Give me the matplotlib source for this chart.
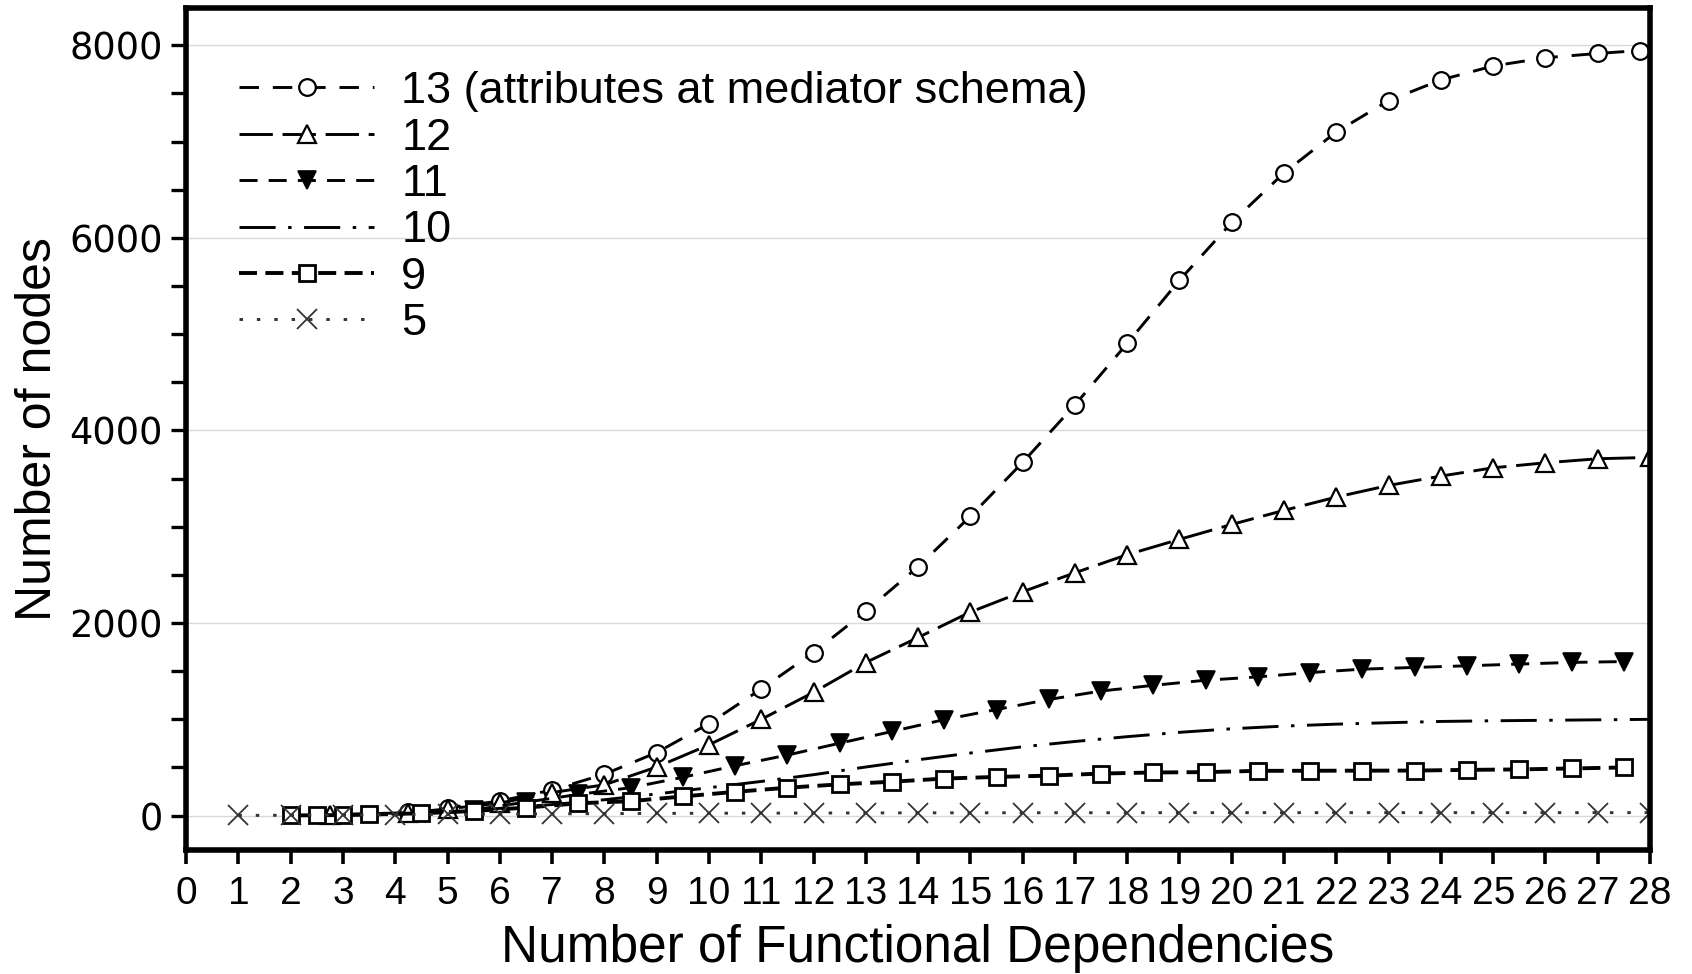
import matplotlib
matplotlib.use("Agg")
import matplotlib.pyplot as plt
from matplotlib import font_manager

# ---------------- data ----------------
x13 = [4.25, 5, 6, 7, 8, 9, 10, 11, 12, 13, 14, 15, 16, 17, 18, 19, 20,
       21, 22, 23, 24, 25, 26, 27, 27.8]
y13 = [35, 80, 152, 266, 430, 655, 955, 1315, 1694, 2122, 2585, 3108, 3668,
       4265, 4904, 5560, 6160, 6675, 7100, 7425, 7640, 7785, 7870, 7915, 7945]

x12 = [2.75, 4.25, 5, 6, 7, 8, 9, 10, 11, 12, 13, 14, 15, 16, 17, 18, 19,
       20, 21, 22, 23, 24, 25, 26, 27, 28]
y12 = [10, 30, 70, 130, 240, 320, 505, 735, 1000, 1280, 1590, 1850, 2114,
       2325, 2522, 2710, 2869, 3024, 3170, 3308, 3429, 3526, 3612, 3664,
       3706, 3720]

x11 = [5.5, 6.5, 7.5, 8.5, 9.5, 10.5, 11.5, 12.5, 13.5, 14.5, 15.5, 16.5,
       17.5, 18.5, 19.5, 20.5, 21.5, 22.5, 23.5, 24.5, 25.5, 26.5, 27.5]
y11 = [60, 140, 220, 290, 398, 518, 629, 752, 874, 997, 1102, 1206, 1294,
       1353, 1406, 1441, 1486, 1521, 1539, 1556, 1574, 1591, 1600]

x10 = [3, 4, 5, 6, 7, 8, 9, 10, 11, 12, 13, 14, 15, 16, 17, 18, 19, 20, 21,
       22, 23, 24, 25, 26, 27, 28]
y10 = [5, 15, 40, 75, 115, 165, 225, 290, 355, 425, 505, 580, 650, 715, 770,
       820, 865, 902, 930, 950, 965, 978, 985, 990, 995, 1000]

x9 = [2, 2.5, 3, 3.5, 4.5, 5.5, 6.5, 7.5, 8.5, 9.5, 10.5, 11.5, 12.5, 13.5,
      14.5, 15.5, 16.5, 17.5, 18.5, 19.5, 20.5, 21.5, 22.5, 23.5, 24.5,
      25.5, 26.5, 27.5]
y9 = [2, 4, 6, 12, 24, 48, 83, 128, 150, 199, 247, 290, 325, 352, 385, 402,
      415, 437, 448, 452, 465, 466, 467, 468, 475, 480, 490, 500]

x5 = [1, 2, 3, 4, 5, 6, 7, 8, 9, 10, 11, 12, 13, 14, 15, 16, 17, 18, 19, 20,
      21, 22, 23, 24, 25, 26, 27, 28]
y5 = [2, 4, 7, 10, 13, 16, 19, 21, 23, 25, 26, 27, 28, 29, 29, 30, 30, 30,
      31, 31, 31, 31, 31, 31, 31, 31, 31, 31]

labels = ["13 (attributes at mediator schema)", "12", "11", "10", "9", "5"]
xticks = list(range(0, 29))
yticks_major = [0, 2000, 4000, 6000, 8000]
yticks_minor = [500, 1000, 1500, 2500, 3000, 3500, 4500, 5000, 5500,
                6500, 7000, 7500]

# ---------------- style ----------------
plt.rcParams['lines.scale_dashes'] = False
installed = {f.name for f in font_manager.fontManager.ttflist}
narrow = 'Liberation Sans Narrow' if 'Liberation Sans Narrow' in installed else 'Liberation Sans'

fig = plt.figure(figsize=(16.92, 9.74), dpi=100)
ax = fig.add_axes([0.110, 0.1273, 0.8652, 0.8645])

mk = dict(markerfacecolor='white', markeredgecolor='black', color='black')

ax.plot(x13, y13, linestyle=(0, (14, 10)), lw=2.1, marker='o', ms=12,
        mew=1.6, label=labels[0], **mk)
ax.plot(x12, y12, linestyle=(0, (24, 7)), lw=2.1, marker='^', ms=13.5,
        mew=1.6, label=labels[1], **mk)
ax.plot(x11, y11, linestyle=(0, (13, 8)), lw=2.1, marker='v', ms=12.5,
        mew=1.2, color='black', markerfacecolor='black',
        markeredgecolor='black', label=labels[2])
ax.plot(x10, y10, linestyle=(0, (26, 9, 2.5, 9)), lw=2.1, color='black',
        label=labels[3])
ax.plot(x9, y9, linestyle=(0, (13, 6)), lw=2.8, marker='s', ms=12,
        mew=2.0, label=labels[4], **mk)
ax.plot(x5, y5, linestyle=(0, (2.5, 10)), lw=2.1, marker='x', ms=14,
        mew=1.3, color='#333333', label=labels[5])

ax.set_xlim(0, 28)
ax.set_ylim(-357, 8387)
ax.set_xticks(xticks)
ax.set_xticklabels([str(t) for t in xticks], fontfamily=narrow, fontsize=28)
ax.set_yticks(yticks_major)
ax.set_yticks(yticks_minor, minor=True)
ax.set_yticklabels([str(t) for t in yticks_major], fontfamily='DejaVu Sans',
                   fontsize=26.5)

ax.grid(axis='y', which='major', color='#d8d8d8', lw=1.0)
ax.set_axisbelow(True)

for s in ax.spines.values():
    s.set_linewidth(4)
ax.tick_params(axis='x', direction='out', length=10, width=2.6, pad=9)
ax.tick_params(axis='y', which='major', direction='out', length=11,
               width=2.4, pad=6)
ax.tick_params(axis='y', which='minor', direction='out', length=11,
               width=2.4)

ax.set_xlabel("Number of Functional Dependencies", fontfamily='Liberation Sans',
              fontsize=37, labelpad=8)
ax.set_ylabel("Number of nodes", fontfamily='Liberation Sans', fontsize=36,
              labelpad=6)

leg = ax.legend(loc='upper left', bbox_to_anchor=(0.036, 0.925), frameon=False,
                prop={'family': 'Liberation Sans', 'size': 32.5},
                handlelength=3.0, handletextpad=0.6, labelspacing=0.12,
                borderaxespad=0.0, borderpad=0.0)

fig.savefig("out.png", dpi=100)
